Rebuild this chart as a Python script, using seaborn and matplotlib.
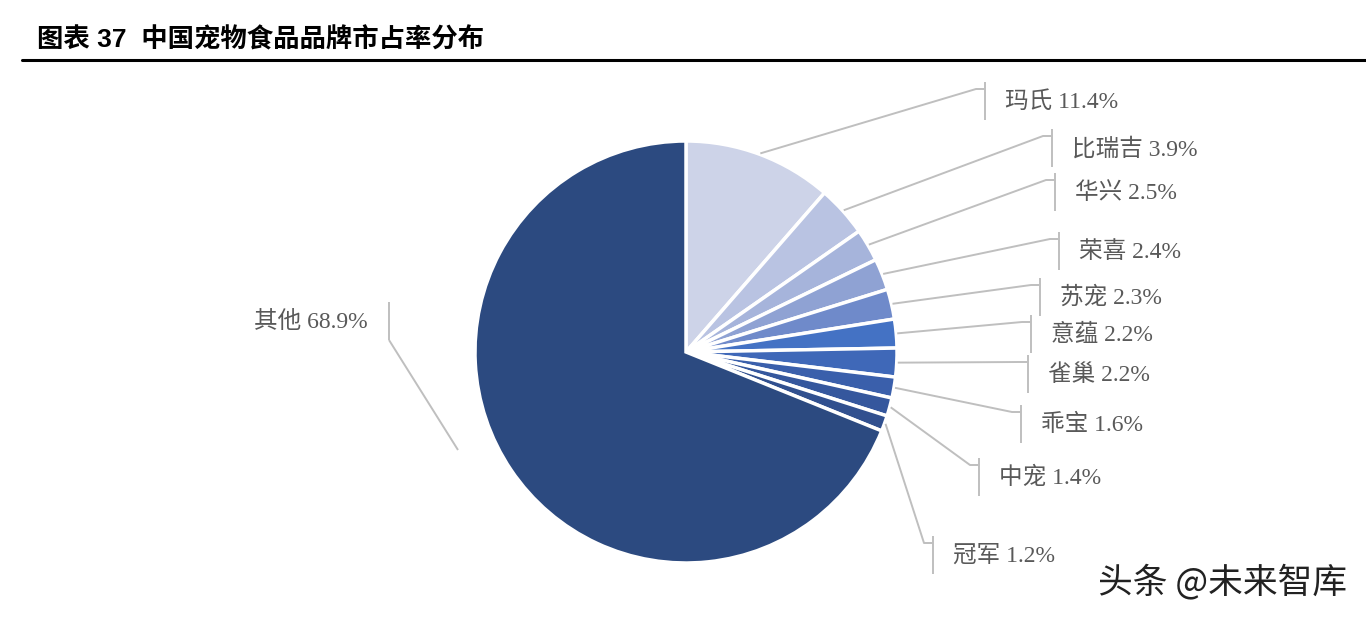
import numpy as np
import pandas as pd
import matplotlib
matplotlib.use('Agg')
import matplotlib.pyplot as plt
import seaborn as sns

# 品牌と市場シェア（%）
brands = ['玛氏', '比瑞吉', '华兴', '荣喜', '苏宠', '意蕴', '雀巢', '乖宝', '中宠', '冠军', '其他']
shares = [11.4, 3.9, 2.5, 2.4, 2.3, 2.2, 2.2, 1.6, 1.4, 1.2, 68.9]
colors = ['#CDD3E8', '#B9C3E2', '#A6B4DB', '#8FA2D3', '#6F8ACA', '#4472C4',
          '#3F68B8', '#3A5FAB', '#35579D', '#31508F', '#2C4A80']

df = pd.DataFrame({'brand': brands, 'share': shares, 'color': colors})

# ラベル配置（ピクセル座標、y は上から）: 縦棒の x, 折れ点の y
label_bar_x = [985, 1052, 1055, 1059, 1040, 1031, 1028, 1021, 979, 933]
label_elbow_y = [89, 136, 180, 239, 285, 322, 362, 412, 465, 543]

W, H = 1366, 618
cx, cy, R = 686, 352, 211

sns.set_theme(style='white')
label_font = ['Liberation Serif', 'Noto Sans CJK SC']
title_font = ['Liberation Sans', 'Noto Sans CJK SC']

fig = plt.figure(figsize=(W / 100, H / 100), dpi=100)
ax = fig.add_axes([0, 0, 1, 1])

wedges, _ = ax.pie(
    df['share'],
    colors=df['color'],
    startangle=90,
    counterclock=False,
    center=(cx, H - cy),
    radius=R,
    wedgeprops=dict(edgecolor='white', linewidth=2.5),
    frame=True,
)
ax.set_xlim(0, W)
ax.set_ylim(0, H)
ax.set_aspect('equal')
ax.axis('off')

line_kw = dict(color='#BFBFBF', lw=1.4, solid_capstyle='butt')
text_kw = dict(fontsize=17, color='#595959', family=label_font, va='center')

# 右側のラベル
for i, row in df.iloc[:-1].iterrows():
    w = wedges[i]
    mid = np.deg2rad((w.theta1 + w.theta2) / 2)
    sx = cx + R * 1.005 * np.cos(mid)
    sy = H - cy + R * 1.005 * np.sin(mid)
    bx = label_bar_x[i]
    ey = H - label_elbow_y[i]
    ax.plot([sx, bx - 9, bx], [sy, ey, ey], **line_kw)
    ax.plot([bx, bx], [ey + 7, ey - 31], **line_kw)
    ax.text(bx + 20, ey - 13, f"{row['brand']} {row['share']:.1f}%", ha='left', **text_kw)

# 其他 のラベル（左側）
ax.plot([458, 389], [H - 450, H - 340], **line_kw)
ax.plot([389, 389], [H - 302, H - 340], **line_kw)
ax.text(368, H - 322, f"{brands[-1]} {shares[-1]:.1f}%", ha='right', **text_kw)

# タイトルと下線
fig.text(37 / W, 1 - 40 / H, '图表 37  中国宠物食品品牌市占率分布', fontsize=19,
         fontweight='bold', color='black', family=title_font, va='center', ha='left')
fig.add_artist(plt.Line2D([22 / W, 1], [1 - 60 / H, 1 - 60 / H], color='black', lw=2.2,
                          transform=fig.transFigure))

# 透かし
fig.text(1098 / W, 1 - 582 / H, '头条 @未来智库', fontsize=25, color='#222222',
         family=['Noto Sans CJK SC', 'DejaVu Sans'], va='center', ha='left')

plt.savefig('out.png', dpi=100)
plt.close()
